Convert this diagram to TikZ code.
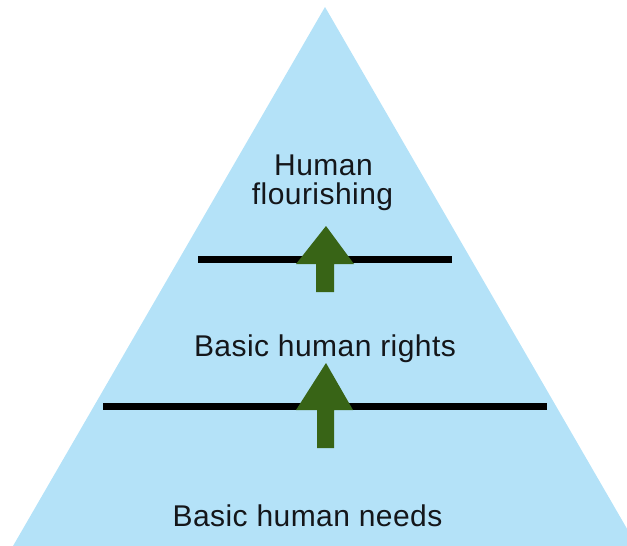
\documentclass[tikz,border=0pt]{standalone}
\usepackage{fontspec}
\setmainfont{Liberation Sans}[LetterSpace=1.5]
\definecolor{skyfill}{RGB}{180,226,248}
\definecolor{arrowgreen}{RGB}{56,100,22}
\definecolor{inkblack}{RGB}{20,22,26}
\begin{document}
\begin{tikzpicture}[x=1pt,y=-1pt,
  lbl/.style={font=\fontsize{30}{30}\selectfont, text=inkblack, inner sep=0pt, anchor=base, align=center},
  divider/.style={line width=7pt, black},
  blockarrow/.style={fill=arrowgreen, draw=none}]
\useasboundingbox (0,0) rectangle (627,546);
\clip (0,0) rectangle (627,546);
% pyramid
\fill[skyfill] (325,7) -- (13,546) -- (637,546) -- cycle;
% dividers
\coordinate (d1l) at (198,259);
\coordinate (d1r) at (452,259);
\coordinate (d2l) at (103,406);
\coordinate (d2r) at (547,406);
\draw[divider] (d1l) -- (d1r);
\draw[divider] (d2l) -- (d2r);
% arrows
\fill[blockarrow] (326,226) -- (354,264) -- (334,264) -- (334,292) -- (316,292) -- (316,264) -- (296,264) -- cycle;
\fill[blockarrow] (326,363) -- (353,410) -- (334,410) -- (334,448) -- (317,448) -- (317,410) -- (296,410) -- cycle;
% labels
\node[lbl] (top1) at (323.5,175) {Human};
\node[lbl] (top2) at (322.5,204) {flourishing};
\node[lbl] (mid) at (325,356) {Basic human rights};
\node[lbl] (bot) at (307.5,526) {Basic human needs};
\end{tikzpicture}
\end{document}
